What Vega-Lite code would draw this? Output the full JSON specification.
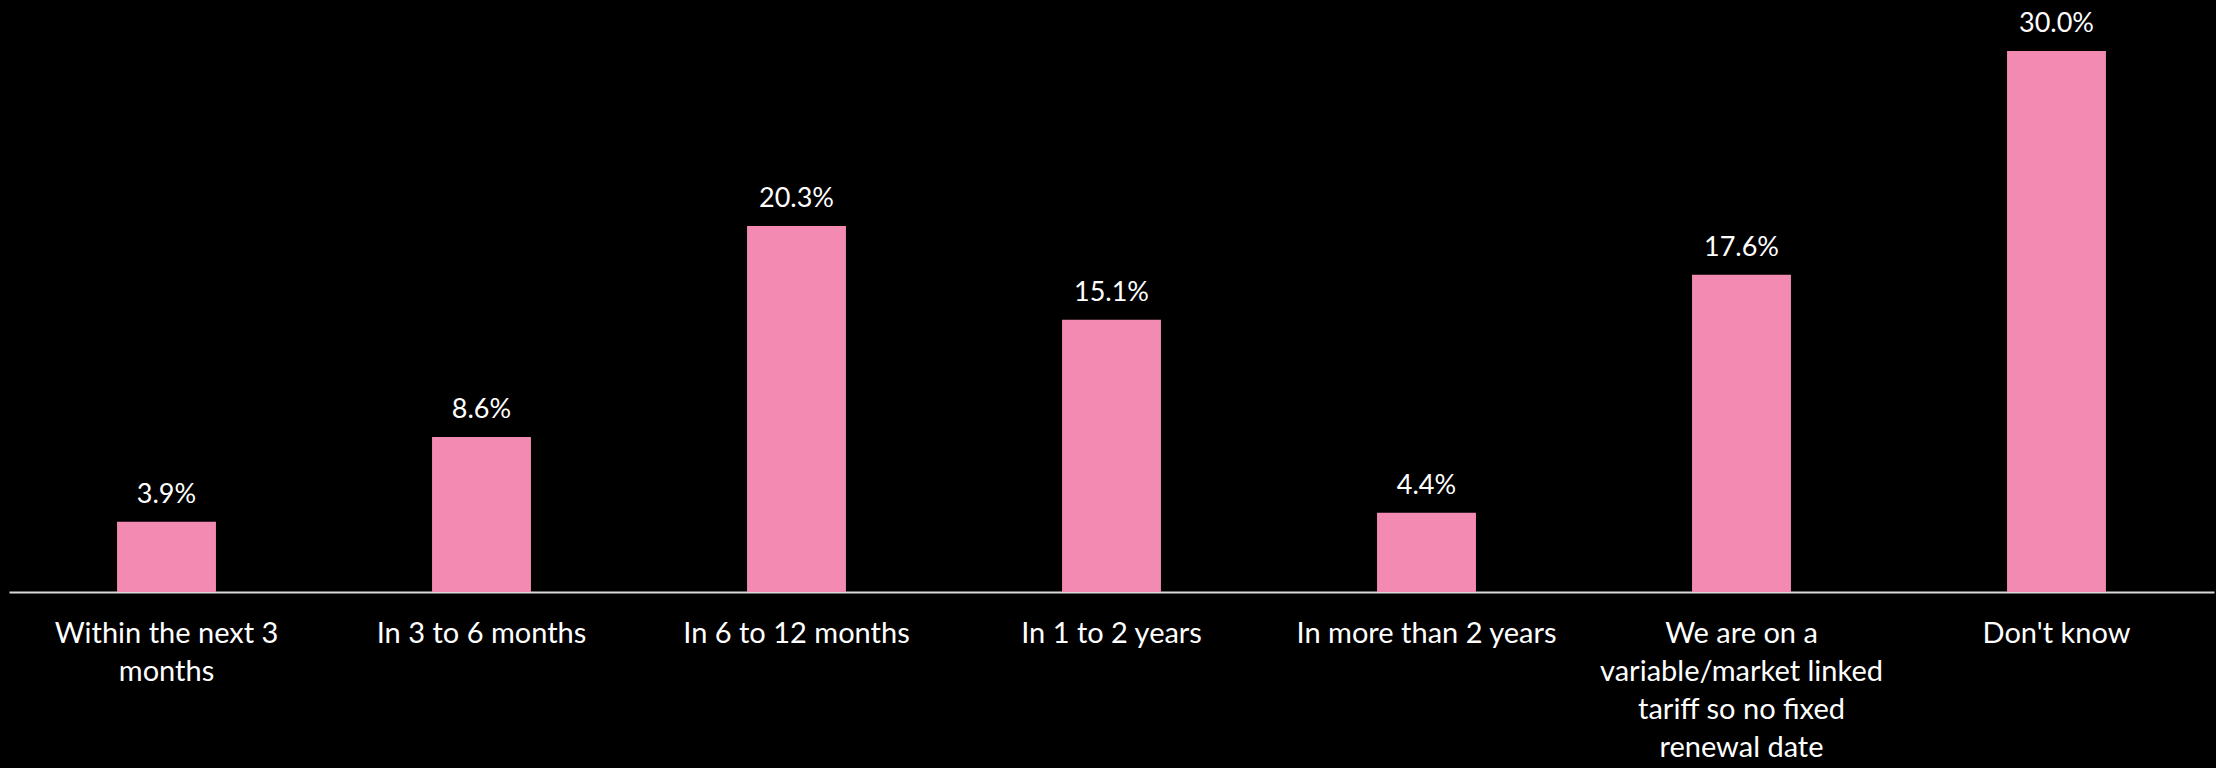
{
  "$schema": "https://vega.github.io/schema/vega-lite/v6.json",
  "width": 2205,
  "height": 592,
  "autosize": {"type": "none"},
  "padding": {"left": 9, "top": 0, "right": 2, "bottom": 176},
  "background": "#000000",
  "config": {"view": {"stroke": null}, "font": "Lato"},
  "data": {
    "values": [
      {"category": "Within the next 3 months", "value": 0.039},
      {"category": "In 3 to 6 months", "value": 0.086},
      {"category": "In 6 to 12 months", "value": 0.203},
      {"category": "In 1 to 2 years", "value": 0.151},
      {"category": "In more than 2 years", "value": 0.044},
      {"category": "We are on a variable/market linked tariff so no fixed renewal date", "value": 0.176},
      {"category": "Don't know", "value": 0.300}
    ]
  },
  "encoding": {
    "x": {
      "field": "category",
      "type": "nominal",
      "sort": null,
      "scale": {"paddingInner": 0.686, "paddingOuter": 0.343},
      "axis": {
        "title": null,
        "labelAngle": 0,
        "labelColor": "#FFFFFF",
        "labelFont": "Lato",
        "labelFontSize": 29,
        "labelLineHeight": 38,
        "labelPadding": 27,
        "labelLimit": 400,
        "ticks": false,
        "tickSize": 0,
        "domainColor": "#D9D9D9",
        "domainWidth": 2,
        "labelExpr": "datum.value == 'Within the next 3 months' ? ['Within the next 3', 'months'] : datum.value == 'We are on a variable/market linked tariff so no fixed renewal date' ? ['We are on a', 'variable/market linked', 'tariff so no fixed', 'renewal date'] : datum.value"
      }
    },
    "y": {
      "field": "value",
      "type": "quantitative",
      "scale": {"domain": [0, 0.3283], "nice": false},
      "axis": null
    }
  },
  "layer": [
    {"mark": {"type": "bar", "color": "#F28AB2"}},
    {
      "mark": {"type": "text", "color": "#FFFFFF", "fontSize": 27, "font": "Lato", "baseline": "bottom", "dy": -13},
      "encoding": {"text": {"field": "value", "type": "quantitative", "format": ".1%"}}
    }
  ]
}
